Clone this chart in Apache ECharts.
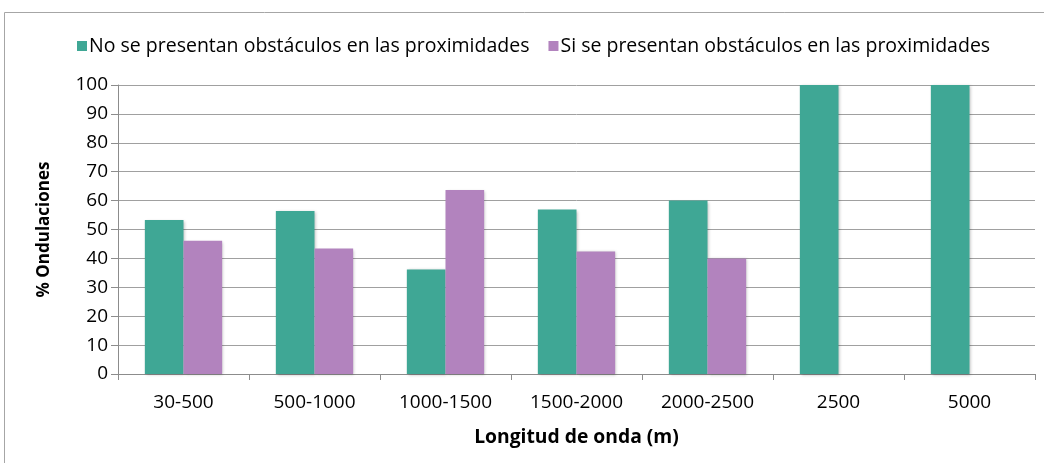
<!DOCTYPE html>
<html>
<head>
<meta charset="utf-8">
<script src="https://cdn.jsdelivr.net/npm/echarts@6/dist/echarts.min.js"></script>
<style>
  html, body { margin: 0; padding: 0; background: #fff; }
  #chart { width: 1044px; height: 463px; }
</style>
</head>
<body>
<div id="chart"></div>
<script>
var categories = ['30-500', '500-1000', '1000-1500', '1500-2000', '2000-2500', '2500', '5000']
var sinObstaculos = [53.3, 56.4, 36.2, 56.9, 60.0, 100, 100]
var conObstaculos = [46.1, 43.4, 63.7, 42.4, 40.0, 0, 0]
var yTicks = [0, 10, 20, 30, 40, 50, 60, 70, 80, 90, 100]

var font = '"Open Sans", Lato, sans-serif'
var chart = echarts.init(document.getElementById('chart'))
var option = {
  animation: false,
  textStyle: { fontFamily: font },
  graphic: [{
    type: 'rect',
    shape: { x: 4.5, y: 12.5, width: 1200, height: 600 },
    style: { fill: 'none', stroke: '#a6a6a6', lineWidth: 1 },
    silent: true
  }],
  legend: {
    top: 36,
    left: 77,
    padding: 0,
    itemWidth: 10,
    itemHeight: 10,
    itemGap: 19,
    icon: 'rect',
    textStyle: { fontSize: 19.5, color: '#000', fontFamily: font, padding: [0, 0, 0, -3] },
    data: ['No se presentan obstáculos en las proximidades', 'Si se presentan obstáculos en las proximidades']
  },
  grid: { left: 118, right: 9, top: 85, bottom: 89 },
  xAxis: {
    type: 'category',
    data: categories,
    name: 'Longitud de onda (m)',
    nameLocation: 'middle',
    nameGap: 54,
    nameTextStyle: { fontSize: 19.3, fontWeight: 'bold', color: '#000', fontFamily: font },
    axisLine: { lineStyle: { color: '#8c8c8c' } },
    axisTick: { show: true, length: 6, lineStyle: { color: '#8c8c8c' } },
    axisLabel: { fontSize: 19, color: '#000', margin: 19, fontFamily: font }
  },
  yAxis: {
    type: 'value',
    min: 0,
    max: 100,
    interval: 10,
    name: '% Ondulaciones',
    nameLocation: 'middle',
    nameGap: 65,
    nameTextStyle: { fontSize: 17, fontWeight: 'bold', color: '#000', fontFamily: font },
    axisLine: { show: true, lineStyle: { color: '#8c8c8c' } },
    axisTick: { show: true, length: 7, lineStyle: { color: '#8c8c8c' } },
    axisLabel: {
      fontSize: 19, color: '#000', margin: 10, fontFamily: font,
      formatter: function (v) { return yTicks.indexOf(v) >= 0 ? String(v) : '' }
    },
    splitLine: { lineStyle: { color: '#a0a0a0', width: 1 } }
  },
  series: [
    {
      name: 'No se presentan obstáculos en las proximidades',
      type: 'bar',
      data: sinObstaculos,
      barGap: '0%',
      barCategoryGap: '41%',
      itemStyle: { color: '#3fa795', shadowColor: 'rgba(0,0,0,0.25)', shadowBlur: 3, shadowOffsetX: 1, shadowOffsetY: 1 }
    },
    {
      name: 'Si se presentan obstáculos en las proximidades',
      type: 'bar',
      data: conObstaculos,
      itemStyle: { color: '#b283be', shadowColor: 'rgba(0,0,0,0.25)', shadowBlur: 3, shadowOffsetX: 1, shadowOffsetY: 1 }
    }
  ]
}
chart.setOption(option)
</script>
</body>
</html>
